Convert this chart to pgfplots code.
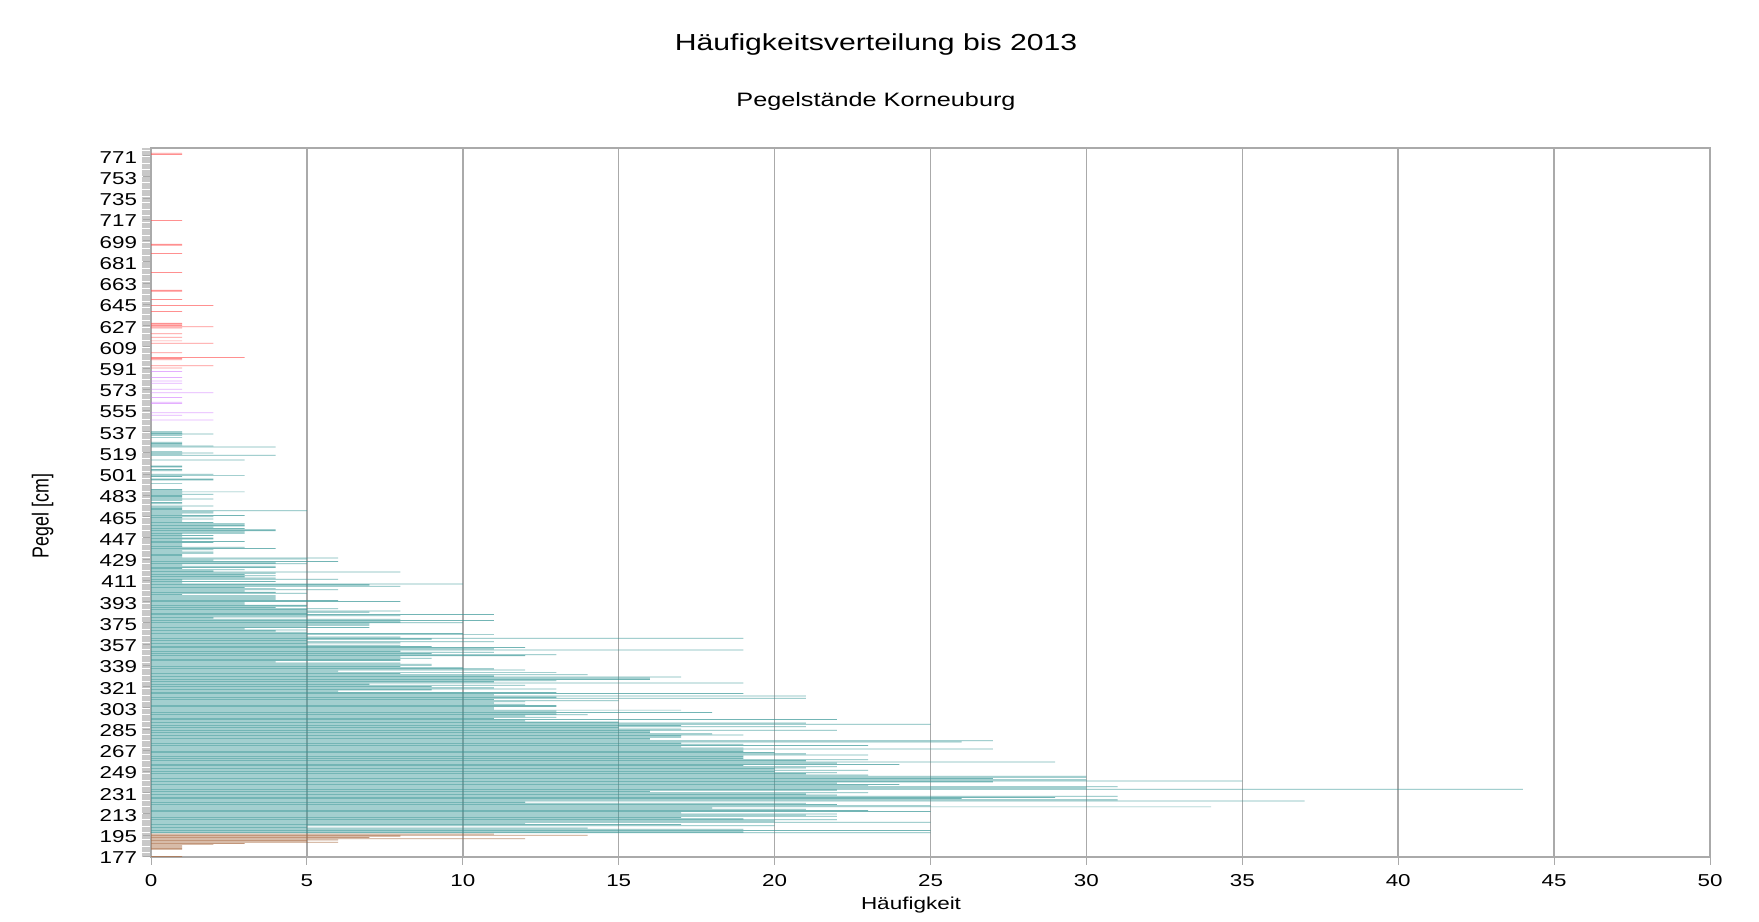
\documentclass[border=0pt]{standalone}
\usepackage{fontspec}
\setmainfont{Liberation Sans}[FakeStretch=1.3]
\newfontfamily\ylabfont{Liberation Sans}[FakeStretch=0.77]
\usepackage{pgfplots}
\pgfplotsset{compat=1.18}
\definecolor{tealc}{RGB}{55,150,150}
\definecolor{brownc}{RGB}{170,110,70}
\definecolor{redc}{RGB}{255,70,70}
\definecolor{violc}{RGB}{205,110,255}
\definecolor{gridc}{RGB}{170,170,170}
\begin{document}
\begin{tikzpicture}
\useasboundingbox (0,0) rectangle (879.5pt,460.5pt);
\begin{axis}[
  at={(75.5pt,32pt)}, anchor=south west,
  scale only axis, width=779.5pt, height=354.5pt,
  xmin=0, xmax=50, ymin=176.5, ymax=777.5,
  xtick={0,5,...,50},
  ytick={177,195,...,771},
  minor ytick={177,178,...,777},
  xmajorgrids, ymajorgrids=false,
  major grid style={gridc, line width=0.75pt},
  axis line style={gridc, line width=0.75pt},
  tick align=outside, tick pos=left,
  major tick length=3.8pt, minor tick length=4.5pt,
  every tick/.style={gridc, line width=0.5pt},
  minor y tick style={gridc!65, line width=0.3pt},
  /pgf/number format/assume math mode=true,
  ticklabel style={font=\fontsize{8.6pt}{9pt}\selectfont, text=black},
  xticklabel style={anchor=north, inner sep=0pt, yshift=-4.8pt},
  yticklabel style={anchor=east, inner sep=0pt, xshift=-3pt, yshift=-0.8pt},
  clip=false,
]
\addplot[xbar, bar shift=0pt, bar width=0.62, draw=none, fill=brownc, fill opacity=0.72] coordinates {
(11,196) (14,195) (8,194) (7,193) (12,192) (6,191) (5,190) (6,189) (3,188) (2,187)
(1,186) (1,185) (1,184) (1,183) (1,177)
};
\addplot[xbar, bar shift=0pt, bar width=0.62, draw=none, fill=tealc, fill opacity=0.7] coordinates {
(1,537) (1,536) (2,535) (1,534) (1,532) (1,528) (1,527) (1,526) (2,525) (4,524)
(1,520) (2,519) (1,518) (4,517) (3,513) (1,508) (1,507) (1,505) (1,504) (2,501)
(3,500) (1,499) (2,497) (2,496) (1,493) (1,488) (1,487) (3,486) (1,485) (2,484)
(1,483) (1,482) (1,481) (2,480) (1,479) (1,477) (1,476) (2,474) (1,473) (1,472)
(1,471) (5,470) (2,469) (2,468) (1,467) (3,466) (2,465) (1,464) (2,463) (1,462)
(1,461) (2,460) (3,459) (3,458) (3,457) (2,456) (3,455) (4,454) (4,453) (3,452)
(3,451) (1,450) (2,449) (1,448) (2,447) (2,446) (1,445) (3,444) (2,443) (1,442)
(1,441) (1,440) (3,439) (4,438) (2,437) (1,436) (2,435) (2,434) (1,433) (1,432)
(1,431) (6,430) (5,429) (2,428) (6,427) (4,426) (5,425) (1,424) (4,423) (4,422)
(1,421) (3,420) (2,419) (8,418) (4,417) (3,416) (4,415) (3,414) (4,413) (6,412)
(1,411) (4,410) (1,409) (10,408) (7,407) (8,406) (3,405) (4,404) (6,403) (3,402)
(4,401) (5,400) (1,399) (4,398) (4,397) (4,396) (4,395) (6,394) (8,393) (3,392)
(3,391) (5,390) (5,389) (4,388) (6,387) (5,386) (8,385) (7,384) (5,383) (11,382)
(8,381) (5,380) (2,379) (8,378) (11,377) (8,376) (10,375) (7,374) (7,373) (5,372)
(7,371) (3,370) (5,369) (4,368) (5,367) (10,366) (11,365) (5,364) (8,363) (19,362)
(9,361) (5,360) (11,359) (8,358) (5,357) (8,356) (9,355) (12,354) (11,353) (19,352)
(8,351) (11,350) (9,349) (13,348) (12,347) (8,346) (9,345) (8,344) (8,343) (4,342)
(8,341) (9,340) (9,339) (8,338) (10,337) (11,336) (12,335) (6,334) (13,333) (8,332)
(14,331) (11,330) (17,329) (16,328) (16,327) (13,326) (11,325) (19,324) (7,323) (12,322)
(9,321) (11,320) (13,319) (9,318) (6,317) (13,316) (19,315) (11,314) (21,313) (13,312)
(21,311) (11,310) (15,309) (12,308) (11,307) (12,306) (13,305) (13,304) (11,303) (11,302)
(17,301) (13,300) (18,299) (13,298) (14,297) (12,296) (13,295) (11,294) (22,293) (12,292)
(15,291) (21,290) (25,289) (17,288) (21,287) (15,286) (17,285) (22,284) (16,283) (16,282)
(18,281) (19,280) (17,279) (17,278) (16,277) (16,276) (27,275) (26,274) (17,273) (19,272)
(23,271) (17,270) (19,269) (27,268) (19,267) (19,266) (20,265) (21,264) (23,263) (19,262)
(19,261) (19,260) (23,259) (21,258) (29,257) (22,256) (24,255) (19,254) (22,253) (21,252)
(20,251) (23,250) (20,249) (22,248) (21,247) (23,246) (30,245) (30,244) (27,243) (30,242)
(35,241) (27,240) (22,239) (24,238) (23,237) (31,236) (30,235) (44,234) (22,233) (16,232)
(23,231) (21,230) (22,229) (31,228) (29,227) (26,226) (31,225) (37,224) (12,223) (21,222)
(22,221) (25,220) (34,219) (18,218) (21,217) (23,216) (25,215) (17,214) (22,213) (21,212)
(22,211) (17,210) (19,209) (22,208) (20,207) (25,206) (12,205) (17,204) (20,203) (5,202)
(14,201) (19,200) (25,199) (19,198) (25,197)
};
\addplot[xbar, bar shift=0pt, bar width=0.62, draw=none, fill=violc, fill opacity=0.55] coordinates {
(1,588) (1,583) (1,580) (1,578) (1,573) (2,570) (1,566) (1,562) (1,561) (2,553)
(1,551) (2,547)
};
\addplot[xbar, bar shift=0pt, bar width=0.62, draw=none, fill=redc, fill opacity=0.6] coordinates {
(1,773) (1,772) (1,716) (1,696) (1,695) (1,688) (1,672) (1,657) (1,656) (1,649)
(2,644) (1,639) (1,629) (1,628) (1,627) (2,626) (1,625) (1,620) (1,617) (1,614)
(2,612) (1,604) (3,600) (1,599) (1,598) (2,593) (1,591)
};
\end{axis}
\node[font=\fontsize{11.6pt}{13pt}\selectfont] at (438pt,438pt) {Häufigkeitsverteilung bis 2013};
\node[font=\fontsize{9.7pt}{11pt}\selectfont] at (438pt,410pt) {Pegelstände Korneuburg};
\node[font=\fontsize{8.65pt}{10pt}\selectfont] at (455.5pt,8pt) {Häufigkeit};
\node[font=\ylabfont\fontsize{11.6pt}{13pt}\selectfont, rotate=90] at (21.3pt,202.5pt) {Pegel [cm]};
\end{tikzpicture}
\end{document}
